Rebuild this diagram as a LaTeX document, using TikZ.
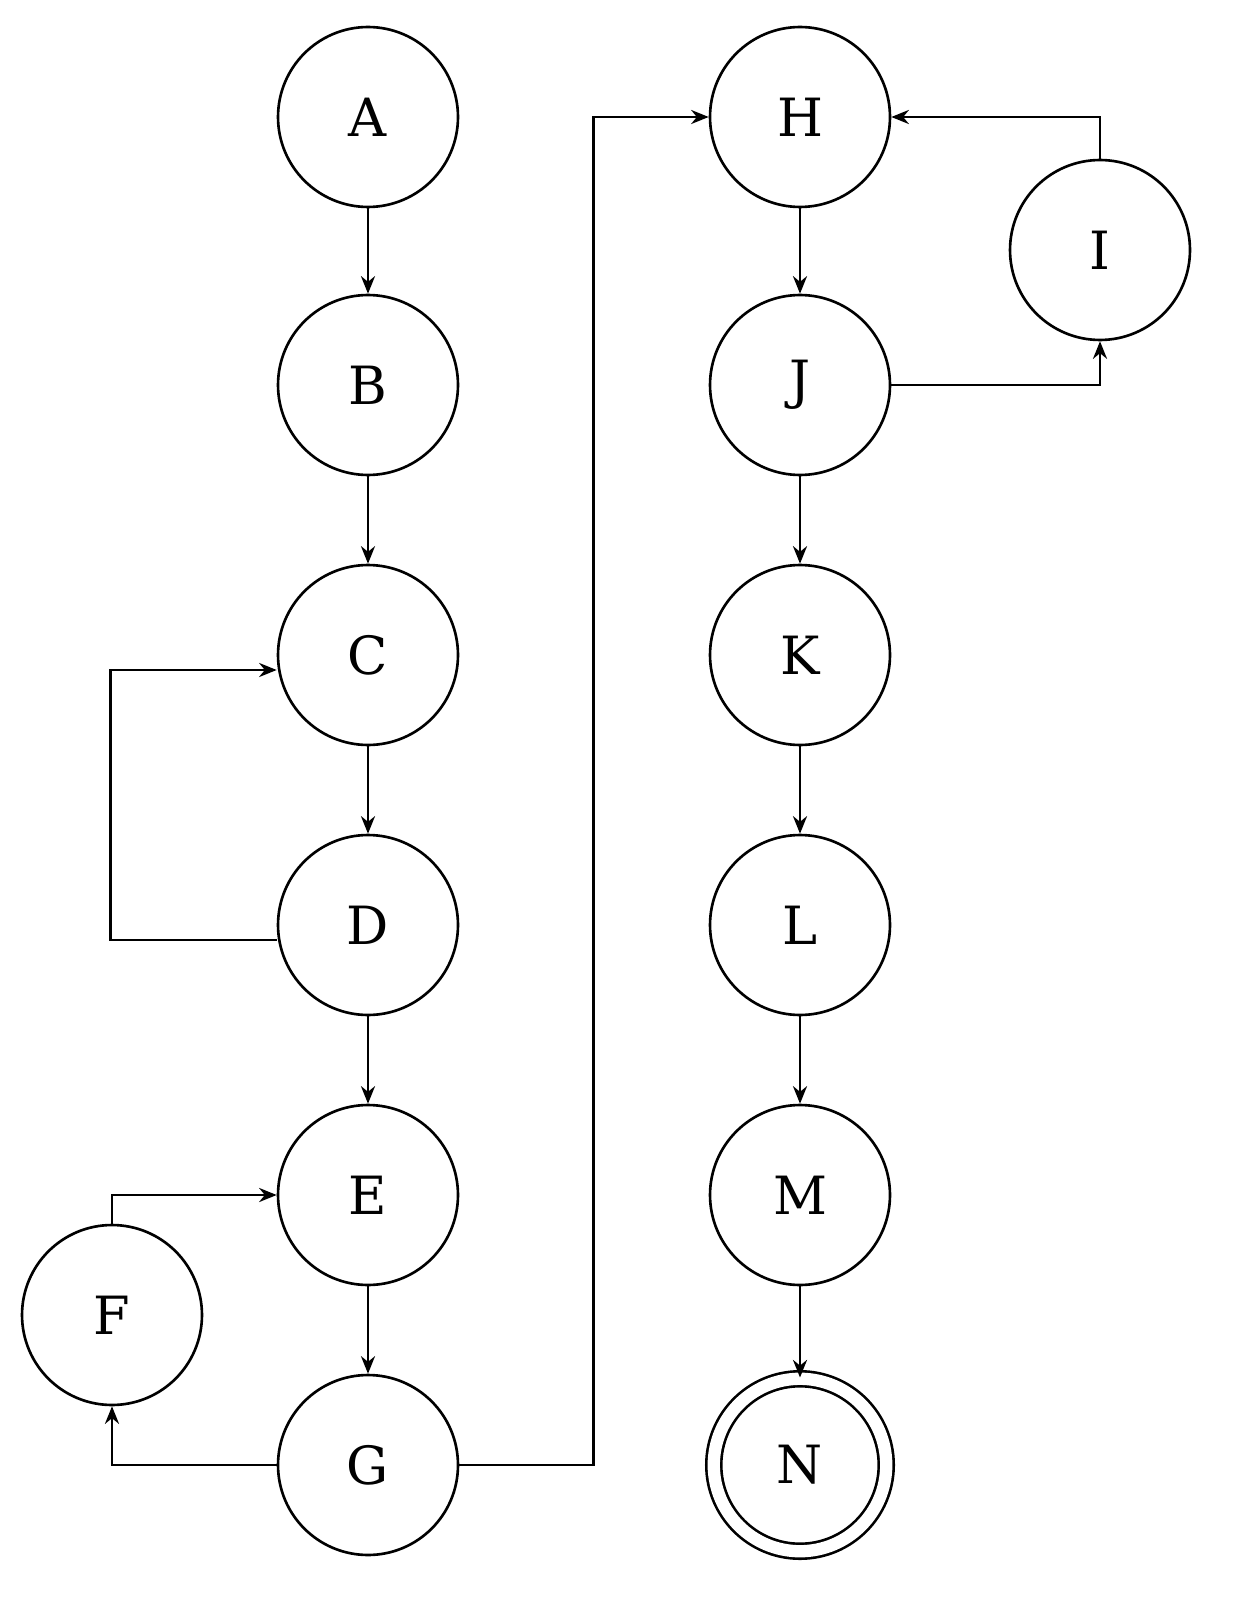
\documentclass[tikz,border=0pt]{standalone}
\usepackage{fontspec}
\setmainfont{DejaVu Serif}
\usetikzlibrary{positioning,arrows.meta}
\begin{document}
\begin{tikzpicture}[x=0.02cm,y=-0.02cm,
  state/.style={draw, circle, line width=1.5pt, minimum size=3.6cm, inner sep=0pt, font=\fontsize{30}{36}\selectfont},
  accept/.style={state, double, double distance=7pt, minimum size=3.45cm},
  every path/.style={line width=1.5pt},
  >={Stealth[length=10pt,width=8pt]}]
  \useasboundingbox (0,0) rectangle (1237,1598);
  % Nodes
  \node [state] (A) at (368,117) {A};
  \node [state] (B) at (368,385) {B};
  \node [state] (C) at (368,655) {C};
  \node [state] (D) at (368,925) {D};
  \node [state] (E) at (368,1195) {E};
  \node [state] (F) at (112,1315) {F};
  \node [state] (G) at (368,1465) {G};
  \node [state] (H) at (800,117) {H};
  \node [state] (I) at (1100,250) {I};
  \node [state] (J) at (800,385) {J};
  \node [state] (K) at (800,655) {K};
  \node [state] (L) at (800,925) {L};
  \node [state] (M) at (800,1195) {M};
  \node [accept] (N) at (800,1465) {N};

  % Arrows
  \foreach \a/\b in {A/B, B/C, C/D, D/E, E/G, H/J, J/K, K/L, L/M, M/N}
    \draw [->] (\a) -- (\b);
  \draw [->] ([yshift=-0.3cm]D.west) -- ++(-166,0) |- ([yshift=-0.3cm]C.west);
  \draw [->] (F.north) |- (E.west);
  \draw [->] (G.west) -| (F.south);
  \draw [->] (G.east) -- ++(134,0) |- (H.west);
  \draw [->] (J.east) -| (I.south);
  \draw [->] (I.north) |- (H.east);
\end{tikzpicture}
\end{document}
